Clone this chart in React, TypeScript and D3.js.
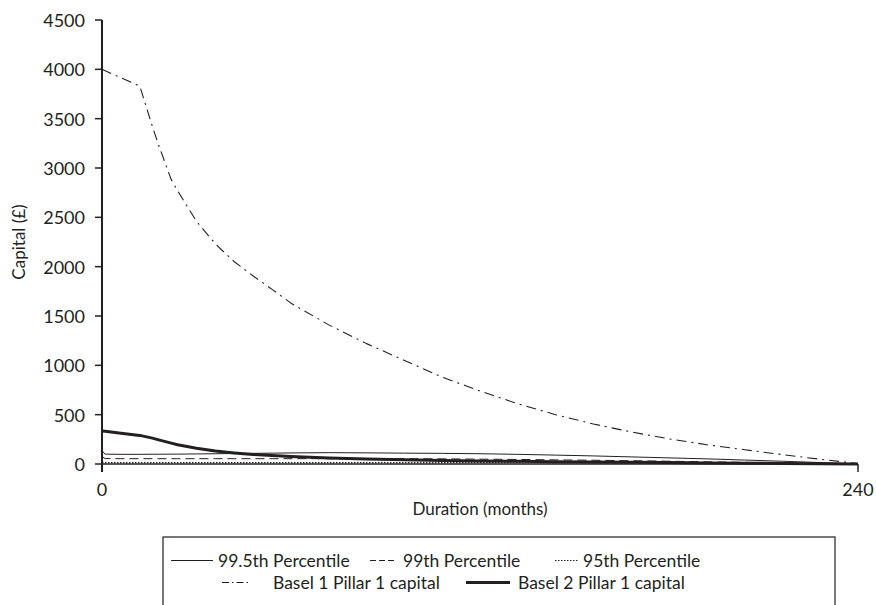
import React from "react";
import * as d3 from "d3";

// Duration in months at which each series is sampled
const months = [0, 1, 6, 12, 16, 18, 22, 24, 30, 36, 42, 48, 54, 60, 72, 84, 96, 108, 120, 132, 144, 156, 168, 180, 192, 204, 216, 228, 240];

// Capital (£) by series
const pct995 = [135, 100, 98, 98, 99, 99, 100, 100, 102, 104, 106, 108, 110, 112, 115, 113, 110, 108, 104, 98, 90, 82, 72, 62, 52, 40, 28, 15, 0];
const pct99 = [75, 55, 54, 54, 54, 54, 54, 54, 54, 54, 54, 54, 54, 54, 54, 54, 54, 52, 49, 46, 42, 38, 33, 28, 22, 17, 11, 6, 0];
const pct95 = [20, 14, 14, 14, 14, 14, 14, 14, 14, 14, 14, 14, 14, 14, 14, 14, 14, 14, 14, 13, 12, 11, 10, 8, 7, 5, 4, 2, 0];
const basel1 = [4000, 3986, 3915, 3830, 3420, 3230, 2880, 2770, 2460, 2230, 2050, 1905, 1770, 1630, 1410, 1220, 1050, 880, 740, 610, 500, 405, 325, 255, 195, 145, 95, 48, 5];
const basel2 = [334, 331, 312, 290, 262, 245, 212, 195, 160, 132, 112, 96, 86, 76, 62, 50, 42, 36, 31, 27, 23, 20, 17, 14, 11, 8, 6, 3, 0];

const yTicks = [0, 500, 1000, 1500, 2000, 2500, 3000, 3500, 4000, 4500];
const xTicks = [0, 240];

const seriesNames = ["99.5th Percentile", "99th Percentile", "95th Percentile", "Basel 1 Pillar 1 capital", "Basel 2 Pillar 1 capital"];

const INK = "#231f20";
const FONT = "Lato, 'Open Sans', sans-serif";

type Style = { width: number; dash?: string };
const styles: Style[] = [
  { width: 1 },
  { width: 1, dash: "9,5" },
  { width: 1.2, dash: "1.5,1.5" },
  { width: 1.1, dash: "10,5,2,5" },
  { width: 3 },
];

export default function App() {
  const W = 876;
  const H = 605;
  const x = d3.scaleLinear().domain([0, 240]).range([102, 858]);
  const y = d3.scaleLinear().domain([0, 4500]).range([464, 20]);

  const values = [pct995, pct99, pct95, basel1, basel2];
  const line = d3
    .line<[number, number]>()
    .x((d) => x(d[0]))
    .y((d) => y(d[1]))
    .curve(d3.curveLinear);

  const paths = values.map((vals) => line(months.map((m, i) => [m, vals[i]] as [number, number])) || "");

  // legend layout: [row center y, sample x0, sample x1, text x]
  const legendItems: [number, number, number, number][] = [
    [560.5, 171, 213, 218],
    [560.5, 370, 394, 403],
    [560.5, 555, 579, 583],
    [582.5, 222, 248, 273],
    [582.5, 466, 510, 518],
  ];

  return (
    <svg
      width={W}
      height={H}
      style={{ position: "absolute", left: 0, top: 0, background: "#fff", display: "block" }}
      fontFamily={FONT}
    >
      <rect x={0} y={0} width={W} height={H} fill="#fff" />

      {/* data */}
      <g fill="none" stroke={INK} strokeLinejoin="round">
        {[3, 2, 1, 0, 4].map((i) => (
          <path key={i} d={paths[i]} strokeWidth={styles[i].width} strokeDasharray={styles[i].dash} />
        ))}
      </g>

      {/* axes */}
      <g stroke={INK} fill="none">
        <line x1={x(0)} x2={x(240)} y1={y(0)} y2={y(0)} strokeWidth={1.5} />
        <line x1={x(0)} x2={x(0)} y1={y(4500)} y2={y(0) + 8} strokeWidth={2} />
        {yTicks.map((t) => (
          <line key={t} x1={x(0) - 7} x2={x(0)} y1={y(t)} y2={y(t)} strokeWidth={1.5} />
        ))}
        {xTicks.map((t) => (
          <line key={t} x1={x(t)} x2={x(t)} y1={y(0)} y2={y(0) + 8} strokeWidth={1.5} />
        ))}
      </g>
      <g fill={INK} fontSize={18}>
        {yTicks.map((t) => (
          <text key={t} x={x(0) - 17} y={y(t)} textAnchor="end" dominantBaseline="central">
            {t}
          </text>
        ))}
        {xTicks.map((t) => (
          <text key={t} x={x(t)} y={y(0) + 25} textAnchor="middle" dominantBaseline="central">
            {t}
          </text>
        ))}
      </g>
      <text x={480} y={508} textAnchor="middle" dominantBaseline="central" fontSize={17} fill={INK}>
        Duration (months)
      </text>
      <text
        transform={`translate(18,${(y(0) + y(4500)) / 2}) rotate(-90)`}
        textAnchor="middle"
        dominantBaseline="central"
        fontSize={17}
        fill={INK}
      >
        Capital (£)
      </text>

      {/* legend */}
      <rect x={163} y={537} width={672} height={90} fill="none" stroke={INK} strokeWidth={1.2} />
      {legendItems.map(([cy, x0, x1, tx], i) => (
        <g key={i}>
          <line
            x1={x0}
            x2={x1}
            y1={cy}
            y2={cy}
            stroke={INK}
            strokeWidth={styles[i].width}
            strokeDasharray={i === 1 ? "6,3" : i === 3 ? "7,3,1.5,3" : styles[i].dash}
          />
          <text x={tx} y={cy} dominantBaseline="central" fontSize={17.5} fill={INK}>
            {seriesNames[i]}
          </text>
        </g>
      ))}
    </svg>
  );
}
